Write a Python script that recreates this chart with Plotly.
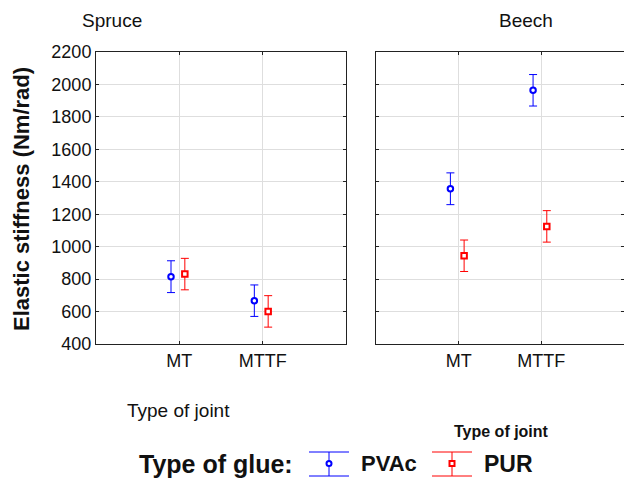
import plotly.graph_objects as go

# Elastic stiffness of joints, mean and error half-width, per wood species
joints = ["MT", "MTTF"]
spruce_pvac = [815, 667]
spruce_pvac_err = [98, 97]
spruce_pur = [831, 601]
spruce_pur_err = [97, 97]
beech_pvac = [1357, 1964]
beech_pvac_err = [98, 97]
beech_pur = [944, 1125]
beech_pur_err = [97, 97]
y_ticks = [400, 600, 800, 1000, 1200, 1400, 1600, 1800, 2000, 2200]

W, H = 624, 481
L, R, T, B = 96, 0, 52, 137
PW = W - L - R
PH = H - T - B

BLUE = "#0000ff"
RED = "#ff0000"
FONT = "Liberation Sans, Arial, sans-serif"
cat_x = [1, 2]
off_pvac, off_pur = -0.1, 0.066


def px(x):
    return (x - L) / PW


def py(y):
    return (H - B - y) / PH


def series(vals, errs, off, color, symbol, xa, ya):
    return go.Scatter(
        x=[c + off for c in cat_x], y=vals, mode="markers",
        xaxis=xa, yaxis=ya, showlegend=False,
        marker=dict(symbol=symbol, size=5.5, color="white",
                    line=dict(color=color, width=2)),
        error_y=dict(type="data", array=errs, visible=True,
                     color=color, thickness=1, width=4),
    )


fig = go.Figure()
fig.add_trace(series(spruce_pvac, spruce_pvac_err, off_pvac, BLUE, "circle", "x", "y"))
fig.add_trace(series(spruce_pur, spruce_pur_err, off_pur, RED, "square", "x", "y"))
fig.add_trace(series(beech_pvac, beech_pvac_err, off_pvac, BLUE, "circle", "x2", "y2"))
fig.add_trace(series(beech_pur, beech_pur_err, off_pur, RED, "square", "x2", "y2"))

xcommon = dict(range=[0, 3], tickvals=cat_x, ticktext=joints,
               showgrid=True, gridcolor="#dedede", gridwidth=1,
               showline=True, linecolor="#222", linewidth=1, mirror="ticks",
               ticks="inside", ticklen=3, tickcolor="#222", zeroline=False,
               tickfont=dict(family=FONT, size=18, color="#111"))
ycommon = dict(range=[400, 2200], tickvals=y_ticks,
               showgrid=True, gridcolor="#dedede", gridwidth=1,
               showline=True, linecolor="#222", linewidth=1, mirror="ticks",
               ticks="inside", ticklen=3, tickcolor="#222", zeroline=False,
               tickfont=dict(family=FONT, size=18, color="#111"))

fig.update_layout(
    width=W, height=H,
    margin=dict(l=L, r=R, t=T, b=B),
    paper_bgcolor="white", plot_bgcolor="white",
    xaxis=dict(domain=[0, 250 / PW], anchor="y", **xcommon),
    yaxis=dict(domain=[0, 1], anchor="x", **ycommon),
    xaxis2=dict(domain=[280 / PW, 1], anchor="y2", **xcommon),
    yaxis2=dict(domain=[0, 1], anchor="x2", showticklabels=False, **ycommon),
    showlegend=False,
)

ann = [
    dict(text="Spruce", x=px(112), y=py(20), size=19, bold=False),
    dict(text="Beech", x=px(526), y=py(20), size=19, bold=False),
    dict(text="Type of joint", x=px(178), y=py(410), size=19, bold=False),
    dict(text="Type of joint", x=px(501), y=py(432), size=16, bold=True),
    dict(text="Type of glue:", x=px(216), y=py(464), size=25, bold=True),
    dict(text="PVAc", x=px(389), y=py(464), size=22, bold=True),
    dict(text="PUR", x=px(508), y=py(464), size=23, bold=True),
]
for a in ann:
    txt = f"<b>{a['text']}</b>" if a["bold"] else a["text"]
    fig.add_annotation(text=txt, x=a["x"], y=a["y"], xref="paper", yref="paper",
                       showarrow=False, xanchor="center", yanchor="middle",
                       font=dict(family=FONT, size=a["size"], color="#111"))

fig.add_annotation(text="<b>Elastic stiffness (Nm/rad)</b>", textangle=-90,
                   x=px(21), y=py(199), xref="paper", yref="paper",
                   showarrow=False, xanchor="center", yanchor="middle",
                   font=dict(family=FONT, size=22, color="#111"))

# Legend keys drawn as error-bar glyphs
shapes = []
for cx, color, kind in [(329, BLUE, "circle"), (452, RED, "rect")]:
    for yy in (452, 476):
        shapes.append(dict(type="line", xref="paper", yref="paper",
                           x0=px(cx - 20), x1=px(cx + 20), y0=py(yy), y1=py(yy),
                           line=dict(color=color, width=1)))
    shapes.append(dict(type="line", xref="paper", yref="paper",
                       x0=px(cx), x1=px(cx), y0=py(452), y1=py(476),
                       line=dict(color=color, width=1)))
    shapes.append(dict(type=kind, xref="paper", yref="paper",
                       x0=px(cx - 2.5), x1=px(cx + 2.5), y0=py(461), y1=py(466),
                       fillcolor="white", line=dict(color=color, width=2)))
fig.update_layout(shapes=shapes)

fig.write_html("out.html")
